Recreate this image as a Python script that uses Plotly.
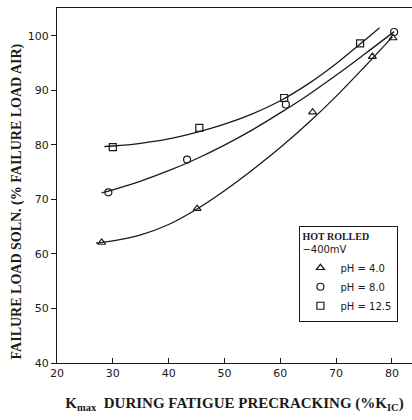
import plotly.graph_objects as go

# measured data points
tri_x = [28.0, 45.1, 65.8, 76.5, 80.2]
tri_y = [62.1, 68.3, 86.0, 96.2, 99.6]
cir_x = [29.2, 43.3, 61.0, 80.4]
cir_y = [71.3, 77.3, 87.4, 100.7]
sq_x = [30.0, 45.5, 60.7, 74.3]
sq_y = [79.6, 83.1, 88.6, 98.6]

# fitted curves
tri_cx = [27.0, 30, 35, 40, 45, 50, 55, 60, 65, 70, 75, 80.1]
tri_cy = [62.0, 62.4, 63.5, 65.4, 68.2, 71.6, 75.4, 79.5, 84.0, 88.9, 94.2, 99.8]
cir_cx = [28.0, 30, 35, 40, 45, 50, 55, 60, 65, 70, 75, 80.4]
cir_cy = [71.2, 71.76, 73.36, 75.26, 77.46, 79.96, 82.76, 85.86, 89.16, 92.76, 96.56, 100.77]
sq_cx = [28.5, 30, 35, 40, 45, 50, 55, 60, 65, 70, 75, 77.8]
sq_cy = [79.7, 79.79, 80.29, 81.09, 82.29, 83.79, 85.69, 88.09, 91.19, 94.89, 99.09, 101.5]

legend_labels = ["pH = 4.0", "pH = 8.0", "pH = 12.5"]

ink = "#1a1a1a"
fig = go.Figure()
for cx, cy in [(tri_cx, tri_cy), (cir_cx, cir_cy), (sq_cx, sq_cy)]:
    fig.add_trace(go.Scatter(x=cx, y=cy, mode="lines", line=dict(color=ink, width=1.3, shape="spline", smoothing=1.0),
                             showlegend=False, hoverinfo="skip"))
for (x, y, sym, name) in [(tri_x, tri_y, "triangle-up-open", legend_labels[0]),
                          (cir_x, cir_y, "circle-open", legend_labels[1]),
                          (sq_x, sq_y, "square-open", legend_labels[2])]:
    fig.add_trace(go.Scatter(x=x, y=y, mode="markers", name=name,
                             marker=dict(symbol=sym, size=7, color=ink, line=dict(width=1.2, color=ink))))

fig.update_layout(
    width=412, height=420,
    margin=dict(l=57, r=0, t=8, b=57),
    paper_bgcolor="white", plot_bgcolor="white",
    font=dict(family="DejaVu Sans", size=11, color=ink),
    xaxis=dict(range=[20, 83.6], tickvals=[20, 30, 40, 50, 60, 70, 80], showgrid=False, zeroline=False,
               showline=True, linecolor=ink, linewidth=1.3, mirror=True, ticks="inside", ticklen=5,
               tickcolor=ink, tickfont=dict(size=11),
               title=dict(text="<b>K<sub>max</sub>  DURING FATIGUE PRECRACKING (%K<sub>IC</sub>)</b>",
                          font=dict(family="Liberation Serif", size=15, color=ink), standoff=18)),
    yaxis=dict(range=[40, 105.1], tickvals=[40, 50, 60, 70, 80, 90, 100], showgrid=False, zeroline=False,
               showline=True, linecolor=ink, linewidth=1.3, ticks="outside", ticklen=5, tickcolor=ink,
               tickfont=dict(size=11)),
    annotations=[dict(text="<b>FAILURE LOAD SOLN. (% FAILURE LOAD AIR)</b>", textangle=-90,
                      xref="paper", yref="paper", x=-0.11, y=0.455, xanchor="center", yanchor="middle",
                      showarrow=False, font=dict(family="Liberation Serif", size=14, color=ink))],
    legend=dict(x=0.682, y=0.386, xanchor="left", yanchor="top", bordercolor=ink, borderwidth=1.3,
                bgcolor="white", font=dict(size=10), itemwidth=30, tracegroupgap=0,
                title=dict(text="<b style='font-family:Liberation Serif'>HOT ROLLED</b><br>−400mV",
                           font=dict(size=10), side="top")),
)
fig.write_html("out.html")
